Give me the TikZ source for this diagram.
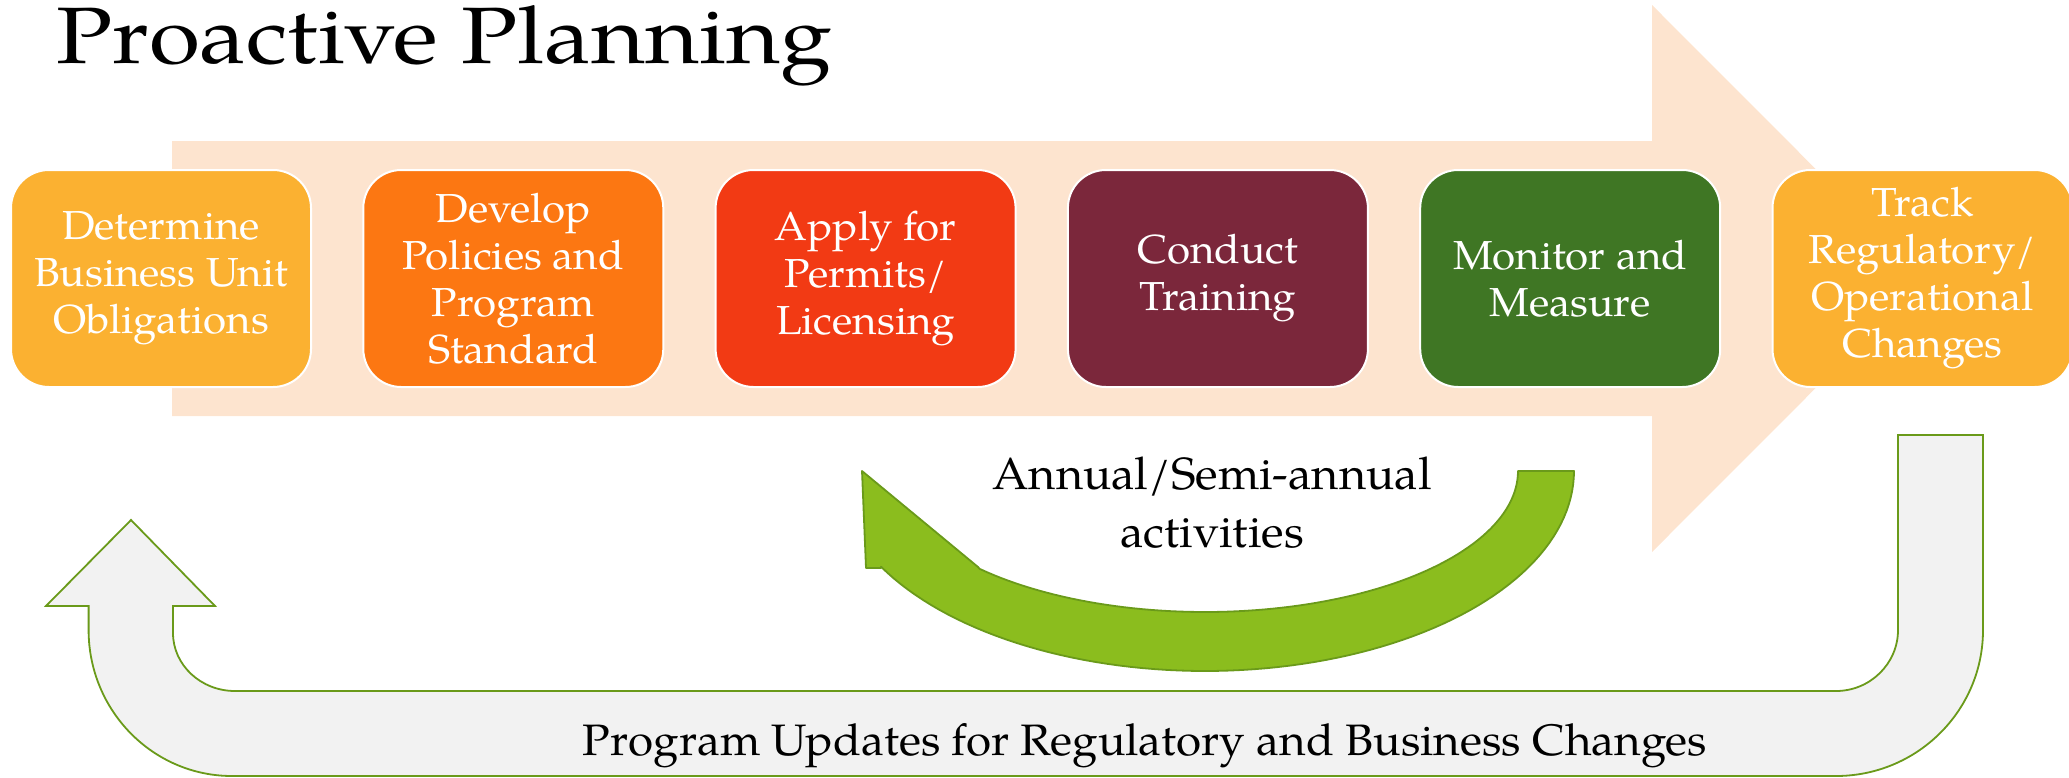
\documentclass[tikz,border=0pt]{standalone}
\usepackage{fontspec}
\setmainfont{TeX Gyre Pagella}[FakeStretch=1.04]
\newfontfamily\titlefont{TeX Gyre Pagella}[FakeStretch=1.163]
\definecolor{peach}{HTML}{FDE4CF}
\definecolor{gold}{HTML}{FBB131}
\definecolor{orng}{HTML}{FC7712}
\definecolor{redo}{HTML}{F23A14}
\definecolor{maroon}{HTML}{7B273B}
\definecolor{dgreen}{HTML}{3F7624}
\definecolor{lgreen}{HTML}{8BBD1E}
\definecolor{olive}{HTML}{6A9A1A}
\definecolor{lgrey}{HTML}{F2F2F2}
\tikzset{
  stepbox/.style={draw=white, line width=2pt, rounded corners=38pt, minimum width=300pt, minimum height=217pt, inner sep=0pt, text=white, align=center, font=\fontsize{40.5}{47}\selectfont},
  label/.style={inner sep=0pt, align=center, text=black},
}
\begin{document}
\begin{tikzpicture}[x=1pt,y=-1pt]
\useasboundingbox (0,0) rectangle (2069,777);
% big background arrow
\fill[peach] (172,141) -- (1652,141) -- (1652,5) -- (1925,278.5) -- (1652,552) -- (1652,416) -- (172,416) -- cycle;
% title
\node[label, anchor=base west, font=\titlefont\fontsize{80}{90}\selectfont] (title) at (56,63) {Proactive Planning};
% boxes
\node[stepbox, fill=gold]   (b1) at (161,278.5)    {Determine\\Business Unit\\Obligations};
\node[stepbox, fill=orng]   (b2) at (513.3,278.5)  {Develop\\Policies and\\Program\\Standard};
\node[stepbox, fill=redo]   (b3) at (865.6,278.5)  {Apply for\\Permits/\\Licensing};
\node[stepbox, fill=maroon] (b4) at (1217.9,278.5) {Conduct\\Training};
\node[stepbox, fill=dgreen] (b5) at (1570.2,278.5) {Monitor and\\Measure};
\node[stepbox, fill=gold]   (b6) at (1922.5,278.5) {Track\\Regulatory/\\Operational\\Changes};
% green curved arrow
\filldraw[fill=lgreen, draw=olive, line width=1.8pt, line join=round]
  (862,471) -- (866,568) -- (881,568)
  -- plot[domain=151.4:0, samples=80, variable=\t] ({1205+369*cos(\t)},{471+200*sin(\t)})
  -- (1518,471)
  -- plot[domain=0:136, samples=80, variable=\t] ({1205+313*cos(\t)},{471+141*sin(\t)})
  -- (978,567) -- cycle;
\node[label, anchor=base, font=\fontsize{45}{58}\selectfont] (annual) at (1212,489) {Annual/Semi-annual};
\node[label, anchor=base, font=\fontsize{45}{58}\selectfont] (activ) at (1212,547) {activities};
% grey U-turn arrow
\filldraw[fill=lgrey, draw=olive, line width=1.8pt, line join=miter]
  (1983,435) -- (1983,630) .. controls (1983,710.6) and (1917.2,776) .. (1836,776)
  -- (232,776) .. controls (152.8,776) and (88.6,710.6) .. (88.6,630)
  -- (88.6,606) -- (46,606) -- (131,520) -- (215,606) -- (173,606)
  -- (173,633) .. controls (173,665) and (200.8,691) .. (235,691)
  -- (1836,691) .. controls (1870,691) and (1898,663.7) .. (1898,630)
  -- (1898,435) -- cycle;
\node[label, anchor=base, font=\fontsize{44}{50}\selectfont] (update) at (1145,755) {Program Updates for Regulatory and Business Changes};
\end{tikzpicture}
\end{document}
